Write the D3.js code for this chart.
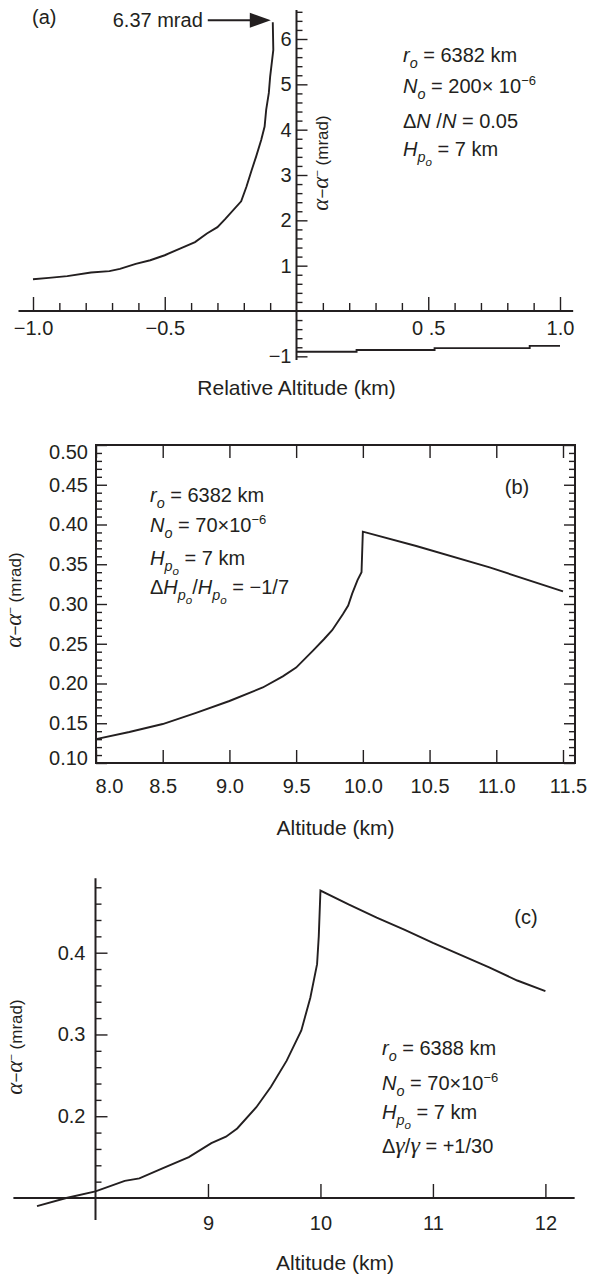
<!DOCTYPE html>
<html>
<head>
<meta charset="utf-8">
<script src="https://cdn.jsdelivr.net/npm/d3@7"></script>
<style>
body { margin: 0; background: #fff; }
svg { display: block; font-family: "Liberation Sans", Arial, Helvetica, sans-serif; white-space: pre; }
.tick line { stroke: #231f20; stroke-width: 1.4; }
.tick text { font-size: 20px; fill: #231f20; font-family: "Liberation Sans", Arial, sans-serif; }
.ax { stroke: #231f20; stroke-width: 2; }
.curve { fill: none; stroke: #231f20; stroke-width: 1.9; }
</style>
</head>
<body>
<div id="chart"></div>
<script>
// ---- panel (a): relative altitude (km) vs alpha - alpha^- (mrad)
var relAltBelow = [-1.00, -0.94, -0.87, -0.78, -0.71, -0.67, -0.61, -0.555, -0.50, -0.44, -0.385, -0.34,
    -0.30, -0.27, -0.21, -0.19, -0.17, -0.153, -0.134, -0.121, -0.115, -0.105, -0.10, -0.088, -0.09];
var devBelow = [0.70, 0.73, 0.77, 0.85, 0.88, 0.93, 1.04, 1.12, 1.23, 1.38, 1.52, 1.71,
    1.85, 2.03, 2.42, 2.74, 3.11, 3.41, 3.77, 4.07, 4.44, 4.81, 5.17, 5.76, 6.37];
var relAltAbove = [0.0, 0.228, 0.524, 0.885, 1.0];
var devAbove = [-0.90, -0.86, -0.82, -0.77, -0.77];
var peakA = 6.37;

var xTicksA = [-1.0, -0.5, 0.5, 1.0];
var xTickLabelsA = ["\u22121.0", "\u22120.5", "0 .5", "1.0"];
var yTicksA = [-1, 1, 2, 3, 4, 5, 6];

// ---- panel (b)
var altB = [8.00, 8.25, 8.50, 8.75, 9.00, 9.25, 9.40, 9.50, 9.63, 9.71, 9.77, 9.85, 9.89, 9.92,
    9.96, 9.99, 10.00, 10.40, 10.95, 11.50];
var devB = [0.130, 0.139, 0.149, 0.163, 0.178, 0.195, 0.209, 0.220, 0.242, 0.256, 0.267, 0.287, 0.298, 0.313,
    0.330, 0.340, 0.391, 0.373, 0.346, 0.316];
var xTicksB = [8.0, 8.5, 9.0, 9.5, 10.0, 10.5, 11.0, 11.5];
var xTickLabelsB = ["8.0", "8.5", "9.0", "9.5", "10.0", "10.5", "11.0", "11.5"];
var yTicksB = [0.10, 0.15, 0.20, 0.25, 0.30, 0.35, 0.40, 0.45, 0.50];
var yTickLabelsB = ["0.10", "0.15", "0.20", "0.25", "0.30", "0.35", "0.40", "0.45", "0.50"];

// ---- panel (c)
var altC = [7.48, 7.74, 8.00, 8.26, 8.39, 8.59, 8.83, 9.03, 9.16, 9.26, 9.43, 9.56, 9.70, 9.83,
    9.91, 9.97, 9.985, 10.00, 10.25, 10.50, 10.75, 11.00, 11.25, 11.50, 11.75, 12.00];
var devC = [0.090, 0.100, 0.108, 0.121, 0.124, 0.136, 0.150, 0.167, 0.175, 0.185, 0.211, 0.236, 0.268, 0.305,
    0.345, 0.386, 0.420, 0.476, 0.459, 0.443, 0.428, 0.412, 0.397, 0.382, 0.366, 0.353];
var xTicksC = [9, 10, 11, 12];
var yTicksC = [0.2, 0.3, 0.4];

// annotation lines: [text, style]  style: "" plain, i italic, g/a greek italic, isub / isub2 subscripts, sup superscript
var notesA = [
    [["r", "i"], ["o", "isub"], [" = 6382 km", ""]],
    [["N", "i"], ["o", "isub"], [" = 200\u00d7 10", ""], ["\u22126", "sup"]],
    [["\u0394", ""], ["N", "i"], [" /", ""], ["N", "i"], [" = 0.05", ""]],
    [["H", "i"], ["p", "isub"], ["o", "isub2"], [" = 7 km", ""]]
];
var notesB = [
    [["r", "i"], ["o", "isub"], [" = 6382 km", ""]],
    [["N", "i"], ["o", "isub"], [" = 70\u00d710", ""], ["\u22126", "sup"]],
    [["H", "i"], ["p", "isub"], ["o", "isub2"], [" = 7 km", ""]],
    [["\u0394", ""], ["H", "i"], ["p", "isub"], ["o", "isub2"], ["/", ""], ["H", "i"], ["p", "isub"], ["o", "isub2"], [" = \u22121/7", ""]]
];
var notesC = [
    [["r", "i"], ["o", "isub"], [" = 6388 km", ""]],
    [["N", "i"], ["o", "isub"], [" = 70\u00d710", ""], ["\u22126", "sup"]],
    [["H", "i"], ["p", "isub"], ["o", "isub2"], [" = 7 km", ""]],
    [["\u0394", ""], ["\u03b3", "g"], ["/", ""], ["\u03b3", "g"], [" = +1/30", ""]]
];
var yTitle = [["\u03b1", "a"], ["\u2212", ""], ["\u03b1", "a"], ["\u2212", "sup"], ["  (mrad)", ""]];

var ink = "#231f20";
var svg = d3.select("#chart").append("svg").attr("width", 589).attr("height", 1276);

function richText(textSel, segs, size) {
    var shift = {"": 0, i: 0, g: 0, a: 0, isub: 0.28, isub2: 0.5, sup: -0.42};
    var scale = {"": 1, i: 1, g: 1.2, a: 1.35, isub: 0.72, isub2: 0.58, sup: 0.65};
    var cur = 0;
    segs.forEach(function (s) {
        var st = s[1], off = shift[st] * size;
        var greek = st === "g" || st === "a";
        var ts = textSel.append("tspan")
            .attr("dy", off - cur)
            .attr("font-size", size * scale[st])
            .attr("font-style", (st.charAt(0) === "i" || greek) ? "italic" : "normal")
            .text(s[0]);
        if (greek) ts.attr("font-family", "'Liberation Serif', 'DejaVu Serif', serif");
        cur = off;
    });
}

function notes(g, x, baselines, lines) {
    lines.forEach(function (segs, i) {
        var t = g.append("text").attr("x", x).attr("y", baselines[i]).attr("fill", ink).attr("font-size", 20);
        richText(t, segs, 20);
    });
}

function rotTitle(g, cx, cy) {
    var t = g.append("text")
        .attr("transform", "translate(" + cx + "," + cy + ") rotate(-90)")
        .attr("text-anchor", "middle").attr("dy", "0.35em")
        .attr("fill", ink).attr("font-size", 17);
    richText(t, yTitle, 17);
}

function plainText(g, x, y, str, size, anchor) {
    g.append("text").attr("x", x).attr("y", y).attr("fill", ink)
        .attr("font-size", size).attr("text-anchor", anchor || "start").text(str);
}

function noDomain(g) { g.select(".domain").remove(); }

// ================= (a)
var xA = d3.scaleLinear().domain([-1, 1]).range([33, 560]);
var yA = d3.scaleLinear().domain([0, 6]).range([311, 39]);
var gA = svg.append("g");

gA.append("line").attr("class", "ax")
    .attr("x1", xA(-1.055)).attr("x2", xA(1.05)).attr("y1", yA(0)).attr("y2", yA(0));
gA.append("line").attr("class", "ax")
    .attr("x1", xA(0)).attr("x2", xA(0)).attr("y1", yA(6.64)).attr("y2", yA(-1.08));

var xMinorA = d3.range(-9, 10).map(function (d) { return d / 10; })
    .filter(function (d) { return d !== 0 && Math.abs(d) !== 0.5; });
var yMinorA = d3.range(-4, 34).map(function (d) { return d / 5; })
    .filter(function (d) { return Math.abs(d - Math.round(d)) > 1e-6; });

gA.append("g").attr("transform", "translate(0," + yA(0) + ")")
    .call(d3.axisBottom(xA).tickValues(xTicksA).tickFormat(function (d, i) { return xTickLabelsA[i]; })
        .tickSizeInner(-14).tickSizeOuter(0).tickPadding(10))
    .call(noDomain);
gA.append("g").attr("transform", "translate(0," + yA(0) + ")")
    .call(d3.axisBottom(xA).tickValues(xMinorA).tickFormat("").tickSizeInner(-8).tickSizeOuter(0))
    .call(noDomain);
gA.append("g").attr("transform", "translate(" + xA(0) + ",0)")
    .call(d3.axisLeft(yA).tickValues(yTicksA).tickFormat(d3.format("d"))
        .tickSizeInner(-11).tickSizeOuter(0).tickPadding(5))
    .call(noDomain);
gA.append("g").attr("transform", "translate(" + xA(0) + ",0)")
    .call(d3.axisLeft(yA).tickValues(yMinorA).tickFormat("").tickSizeInner(-6).tickSizeOuter(0))
    .call(noDomain);

var lineA = d3.line().x(function (d) { return xA(d[0]); }).y(function (d) { return yA(d[1]); });
gA.append("path").attr("class", "curve")
    .attr("d", lineA(d3.zip(relAltBelow, devBelow)));
gA.append("path").attr("class", "curve")
    .attr("d", lineA.curve(d3.curveStepAfter)(d3.zip(relAltAbove, devAbove)));

// 6.37 mrad arrow
var arrowY = yA(peakA) - 2, tipX = xA(relAltBelow[relAltBelow.length - 1]) - 2;
gA.append("line").attr("x1", tipX - 63).attr("x2", tipX - 15).attr("y1", arrowY).attr("y2", arrowY)
    .attr("stroke", ink).attr("stroke-width", 2.2);
gA.append("path").attr("fill", ink)
    .attr("d", "M" + tipX + "," + arrowY + "L" + (tipX - 21) + "," + (arrowY - 7.5) + "L" + (tipX - 21) + "," + (arrowY + 7.5) + "Z");
plainText(gA, tipX - 68, arrowY + 7, peakA + " mrad", 20, "end");
plainText(gA, 32, 24, "(a)", 20);
notes(gA, 403, [62, 93, 128, 156], notesA);
rotTitle(gA, 328, 163);
plainText(gA, xA(0), 395, "Relative Altitude (km)", 21, "middle");

// ================= (b)
var xB = d3.scaleLinear().domain([8, 11.59]).range([96, 575]);
var yB = d3.scaleLinear().domain([0.10, 0.50]).range([763, 445]);
var gB = svg.append("g");
var yMinorB = d3.range(10, 51).map(function (d) { return d / 100; })
    .filter(function (d) { return Math.round(d * 100) % 5 !== 0; });

gB.append("rect").attr("class", "ax").attr("fill", "none")
    .attr("x", xB(8)).attr("y", yB(0.5)).attr("width", xB(11.59) - xB(8)).attr("height", yB(0.1) - yB(0.5));

gB.append("g").attr("transform", "translate(0," + yB(0.1) + ")")
    .call(d3.axisBottom(xB).tickValues(xTicksB).tickFormat(function (d, i) { return xTickLabelsB[i]; })
        .tickSizeInner(-13).tickSizeOuter(0).tickPadding(16))
    .call(noDomain)
    .call(function (g) {
        g.selectAll(".tick text").attr("dx", function (d) { return d === 8 ? 13 : (d === 11.5 ? 5 : 0); });
    });
gB.append("g").attr("transform", "translate(0," + yB(0.5) + ")")
    .call(d3.axisTop(xB).tickValues(xTicksB).tickFormat("").tickSizeInner(-13).tickSizeOuter(0))
    .call(noDomain);
gB.append("g").attr("transform", "translate(" + xB(8) + ",0)")
    .call(d3.axisLeft(yB).tickValues(yTicksB).tickFormat(function (d, i) { return yTickLabelsB[i]; })
        .tickSizeInner(-11).tickSizeOuter(0).tickPadding(8))
    .call(noDomain)
    .call(function (g) {
        g.selectAll(".tick text").attr("y", function (d) { return d === 0.5 ? 7 : (d === 0.1 ? -5 : 0); });
    });
gB.append("g").attr("transform", "translate(" + xB(8) + ",0)")
    .call(d3.axisLeft(yB).tickValues(yMinorB).tickFormat("").tickSizeInner(-6).tickSizeOuter(0))
    .call(noDomain);
gB.append("g").attr("transform", "translate(" + xB(11.59) + ",0)")
    .call(d3.axisRight(yB).tickValues(yTicksB).tickFormat("").tickSizeInner(-11).tickSizeOuter(0))
    .call(noDomain);
gB.append("g").attr("transform", "translate(" + xB(11.59) + ",0)")
    .call(d3.axisRight(yB).tickValues(yMinorB).tickFormat("").tickSizeInner(-6).tickSizeOuter(0))
    .call(noDomain);

var lineB = d3.line().x(function (d) { return xB(d[0]); }).y(function (d) { return yB(d[1]); });
gB.append("path").attr("class", "curve").attr("d", lineB(d3.zip(altB, devB)));

plainText(gB, 517, 494, "(b)", 20, "middle");
notes(gB, 150, [502, 532, 565, 594], notesB);
rotTitle(gB, 21, 600);
plainText(gB, (xB(8) + xB(11.59)) / 2, 835, "Altitude (km)", 21, "middle");

// ================= (c)
var xC = d3.scaleLinear().domain([8, 12]).range([95.5, 545.4]);
var yC = d3.scaleLinear().domain([0.1, 0.4]).range([1198, 952.7]);
var gC = svg.append("g");
var yMinorC = d3.range(6, 25).map(function (d) { return d / 50; })
    .filter(function (d) { return Math.round(d * 50) % 5 !== 0; });

gC.append("line").attr("class", "ax")
    .attr("x1", xC(7.27)).attr("x2", xC(12.26)).attr("y1", yC(0.1)).attr("y2", yC(0.1));
gC.append("line").attr("class", "ax")
    .attr("x1", xC(8)).attr("x2", xC(8)).attr("y1", yC(0.491)).attr("y2", yC(0.073));

gC.append("g").attr("transform", "translate(0," + yC(0.1) + ")")
    .call(d3.axisBottom(xC).tickValues(xTicksC).tickFormat(d3.format("d"))
        .tickSizeInner(-14).tickSizeOuter(0).tickPadding(18))
    .call(noDomain);
gC.append("g").attr("transform", "translate(" + xC(8) + ",0)")
    .call(d3.axisLeft(yC).tickValues(yTicksC).tickFormat(d3.format(".1f"))
        .tickSizeInner(-12).tickSizeOuter(0).tickPadding(10))
    .call(noDomain);
gC.append("g").attr("transform", "translate(" + xC(8) + ",0)")
    .call(d3.axisLeft(yC).tickValues(yMinorC).tickFormat("").tickSizeInner(-6).tickSizeOuter(0))
    .call(noDomain);

var lineC = d3.line().x(function (d) { return xC(d[0]); }).y(function (d) { return yC(d[1]); });
gC.append("path").attr("class", "curve").attr("d", lineC(d3.zip(altC, devC)));

plainText(gC, 526, 924, "(c)", 20, "middle");
notes(gC, 382, [1055, 1090, 1119, 1153], notesC);
rotTitle(gC, 22, 1047);
plainText(gC, 335, 1270, "Altitude (km)", 21, "middle");
</script>
</body>
</html>
